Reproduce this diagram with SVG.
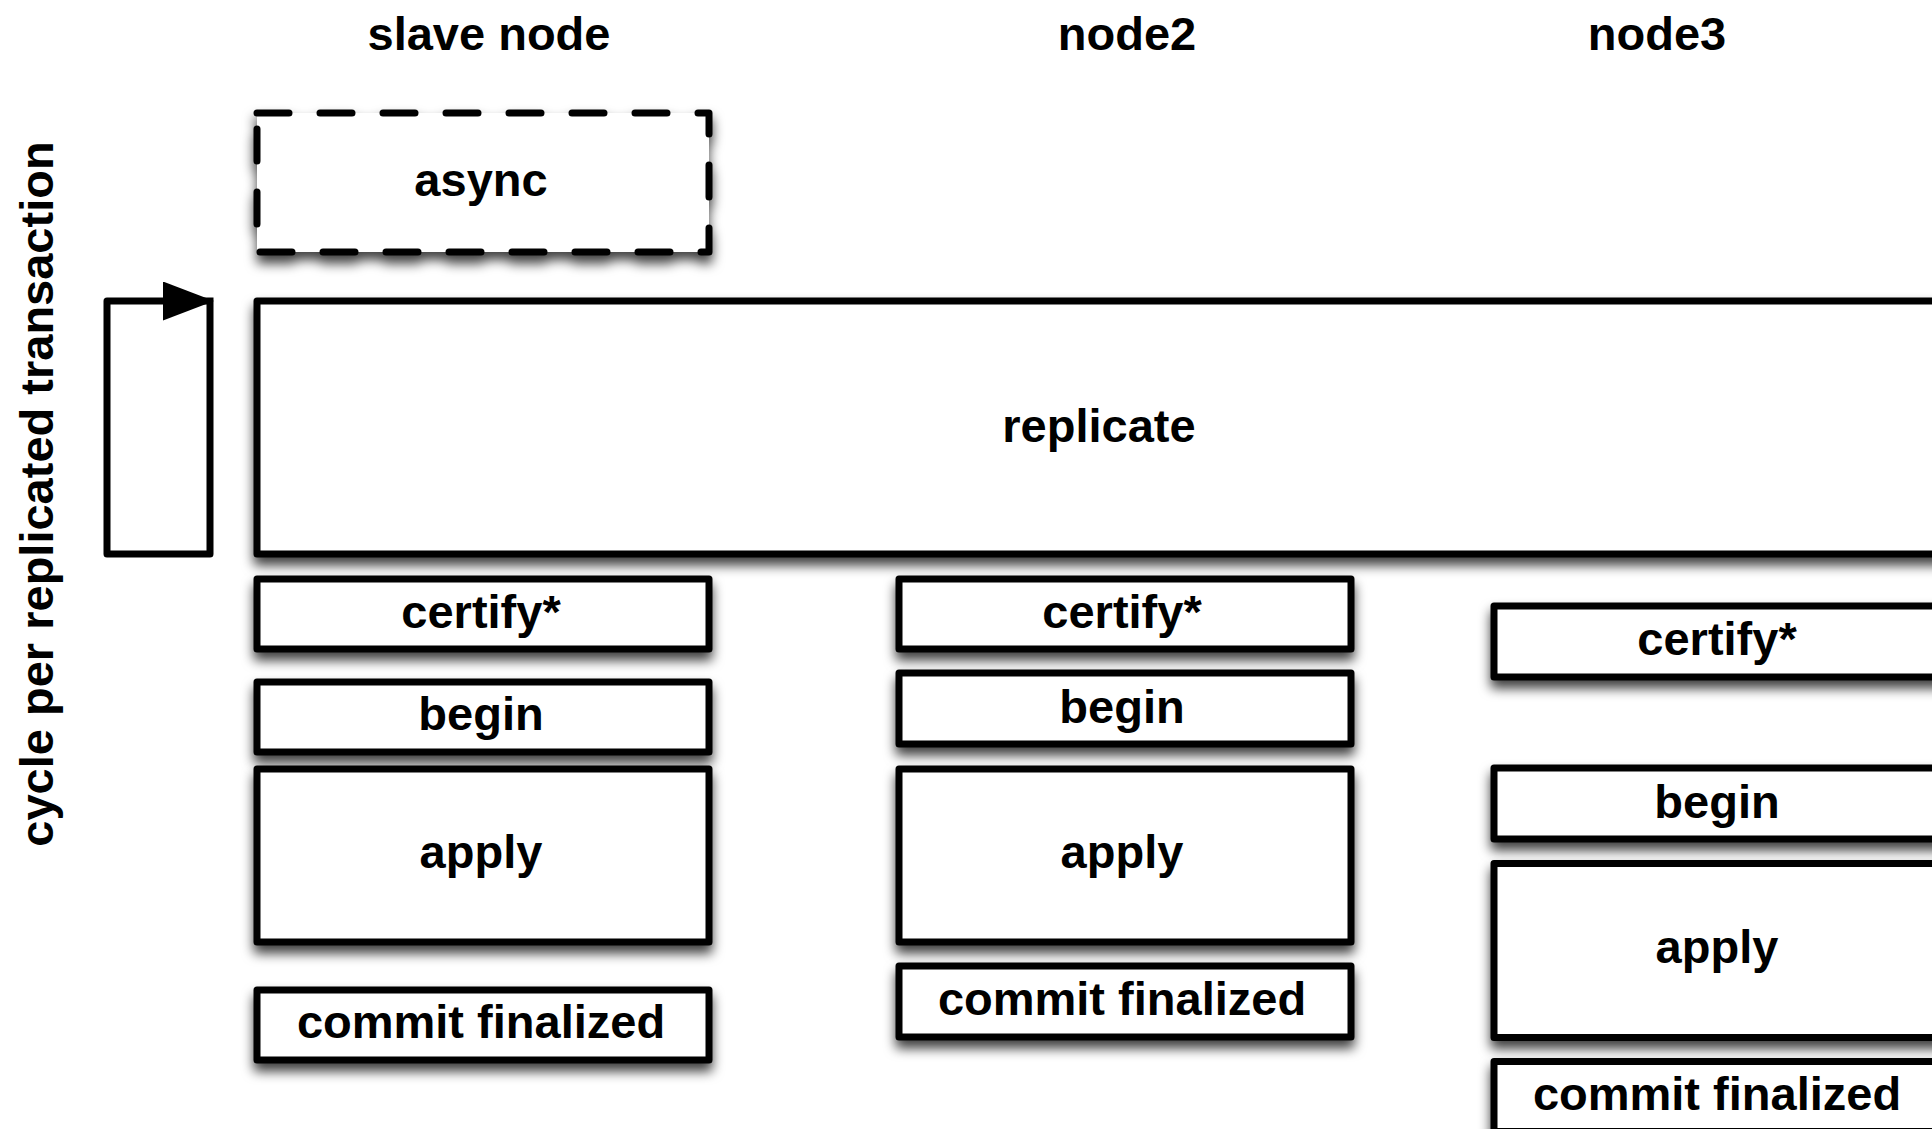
<svg xmlns="http://www.w3.org/2000/svg" width="1932" height="1129" viewBox="0 0 1932 1129">
  <style>
    .box { fill: #ffffff; stroke: #000000; stroke-width: 7; stroke-linejoin: round; }
    .dash { stroke-dasharray: 32 31; stroke-linecap: round; }
    .lbl { font-family: "Liberation Sans", Arial, Helvetica, sans-serif; font-weight: bold; font-size: 47px; fill: #000000; text-anchor: middle; }
    .link { fill: none; stroke: #000000; stroke-width: 7; stroke-linejoin: round; }
  </style>
  <defs>
    <filter id="shadow" x="-10%" y="-20%" width="120%" height="170%">
      <feDropShadow dx="0" dy="8" stdDeviation="6" flood-color="#000000" flood-opacity="0.75"/>
    </filter>
    <marker id="head" markerUnits="userSpaceOnUse" markerWidth="52" markerHeight="40" refX="47" refY="19.5" orient="auto">
      <path d="M0,0 L51,19.5 L0,39 Z" fill="#000000"/>
    </marker>
  </defs>

  <rect width="1932" height="1129" fill="#ffffff"/>

  <!-- column headings -->
  <g id="titles">
    <text class="lbl" x="489" y="50">slave node</text>
    <text class="lbl" x="1127" y="50">node2</text>
    <text class="lbl" x="1657" y="50">node3</text>
  </g>

  <!-- side caption -->
  <g id="cycle-label">
    <text class="lbl" transform="translate(53,494) rotate(-90)">cycle per replicated transaction</text>
  </g>

  <!-- loop arrow -->
  <g id="connectors">
    <path class="link" d="M210,297.5 V554 H107 V301 H210" marker-end="url(#head)"/>
  </g>

  <!-- shared stages -->
  <g id="async">
    <rect class="box dash" x="257" y="113" width="452" height="139" filter="url(#shadow)"/>
    <text class="lbl" x="481" y="196">async</text>
  </g>
  <g id="replicate">
    <rect class="box" x="257" y="301" width="1700" height="253" filter="url(#shadow)"/>
    <text class="lbl" x="1099" y="442">replicate</text>
  </g>

  <!-- slave node column -->
  <g id="slave-certify">
    <rect class="box" x="257" y="579" width="452" height="70" filter="url(#shadow)"/>
    <text class="lbl" x="481" y="628">certify*</text>
  </g>
  <g id="slave-begin">
    <rect class="box" x="257" y="682" width="452" height="70" filter="url(#shadow)"/>
    <text class="lbl" x="481" y="730">begin</text>
  </g>
  <g id="slave-apply">
    <rect class="box" x="257" y="769" width="452" height="173" filter="url(#shadow)"/>
    <text class="lbl" x="481" y="868">apply</text>
  </g>
  <g id="slave-commit">
    <rect class="box" x="257" y="990" width="452" height="70" filter="url(#shadow)"/>
    <text class="lbl" x="481" y="1038">commit finalized</text>
  </g>

  <!-- node2 column -->
  <g id="node2-certify">
    <rect class="box" x="899" y="579" width="452" height="70" filter="url(#shadow)"/>
    <text class="lbl" x="1122" y="628">certify*</text>
  </g>
  <g id="node2-begin">
    <rect class="box" x="899" y="673" width="452" height="71" filter="url(#shadow)"/>
    <text class="lbl" x="1122" y="723">begin</text>
  </g>
  <g id="node2-apply">
    <rect class="box" x="899" y="769" width="452" height="173" filter="url(#shadow)"/>
    <text class="lbl" x="1122" y="868">apply</text>
  </g>
  <g id="node2-commit">
    <rect class="box" x="899" y="966" width="452" height="71" filter="url(#shadow)"/>
    <text class="lbl" x="1122" y="1015">commit finalized</text>
  </g>

  <!-- node3 column -->
  <g id="node3-certify">
    <rect class="box" x="1494" y="606" width="452" height="71" filter="url(#shadow)"/>
    <text class="lbl" x="1717" y="655">certify*</text>
  </g>
  <g id="node3-begin">
    <rect class="box" x="1494" y="768" width="452" height="71" filter="url(#shadow)"/>
    <text class="lbl" x="1717" y="818">begin</text>
  </g>
  <g id="node3-apply">
    <rect class="box" x="1494" y="863.5" width="452" height="174" filter="url(#shadow)"/>
    <text class="lbl" x="1717" y="963">apply</text>
  </g>
  <g id="node3-commit">
    <rect class="box" x="1494" y="1061.5" width="452" height="70" filter="url(#shadow)"/>
    <text class="lbl" x="1717" y="1110">commit finalized</text>
  </g>
</svg>
